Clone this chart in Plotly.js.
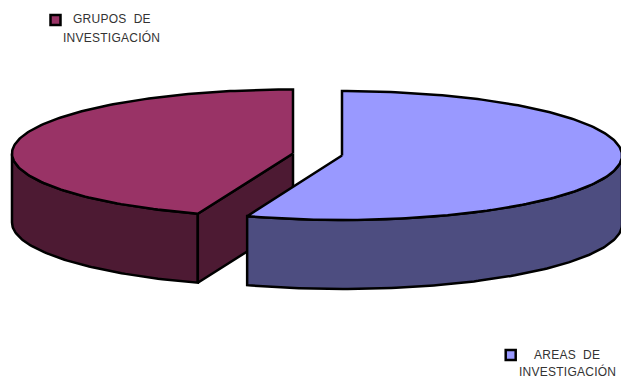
<!DOCTYPE html>
<html><head><meta charset="utf-8">
<script src="https://cdn.plot.ly/plotly-3.0.1.min.js"></script>
<style>html,body{margin:0;padding:0;background:#fff}#c{width:621px;height:378px}
.annotation-text{letter-spacing:.25px}</style></head>
<body><div id="c"></div>
<script>
// Data
const categories = ["AREAS DE INVESTIGACIÓN", "GRUPOS DE INVESTIGACIÓN"];
const values = [55.5, 44.5];
const topColors = ["#9999FF", "#993366"];
const sideColors = ["#4D4D80", "#4D1A33"];
const legendLines = [["AREAS\u00A0\u00A0DE", "INVESTIGACIÓN"], ["GRUPOS\u00A0\u00A0DE", "INVESTIGACIÓN"]];

// Pie geometry (drawing parameters)
const pies = [
  {cx: 342, cy: 155.5, rx: 280, ry: 64.5},
  {cx: 293, cy: 153.5, rx: 281, ry: 64}
];
const depth = 69;
const total = values.reduce((a, b) => a + b, 0);
const split = values[0] / total * 360;
const wedges = [[0, split], [split, 360]];
const frontVisible = [[90, split], [split, 270]];

function pt(p, deg, dy) {
  const t = deg * Math.PI / 180;
  return [p.cx + p.rx * Math.sin(t), p.cy - p.ry * Math.cos(t) + (dy || 0)];
}
function arc(p, a, b, dy) {
  const out = [];
  const n = Math.max(2, Math.ceil(Math.abs(b - a)));
  for (let i = 0; i <= n; i++) out.push(pt(p, a + (b - a) * i / n, dy));
  return out;
}
function poly(points, fill) {
  return {
    type: "scatter", mode: "lines", hoverinfo: "skip", showlegend: false,
    x: points.map(q => q[0]), y: points.map(q => q[1]),
    fill: "toself", fillcolor: fill,
    line: {color: "#000", width: 2.5, shape: "linear"}
  };
}
function slice(i) {
  const p = pies[i], tr = [];
  const [a, b] = wedges[i], [fa, fb] = frontVisible[i];
  const centre = [p.cx, p.cy];
  // outer wall
  tr.push(poly(arc(p, fa, fb, 0).concat(arc(p, fb, fa, depth)).concat([pt(p, fa, 0)]), sideColors[i]));
  // cut wall facing the viewer (second slice only)
  if (i === 1) {
    const f = pt(p, a, 0);
    tr.push(poly([centre, f, [f[0], f[1] + depth], [p.cx, p.cy + depth], centre], sideColors[i]));
  }
  // top face
  tr.push(poly([centre].concat(arc(p, a, b, 0)).concat([centre]), topColors[i]));
  return tr;
}
const traces = [...slice(1), ...slice(0)];

// Legend swatches
const swatchX = [510.7, 55.5], swatchY = [355, 20];
traces.push({
  type: "scatter", mode: "markers", hoverinfo: "skip", showlegend: false,
  x: swatchX, y: swatchY,
  marker: {symbol: "square", size: 10, color: topColors, line: {color: "#000", width: 2.5}}
});

const lineX = [[567, 567.5], [111.5, 111.5]];
const lineY = [[354.5, 371.5], [19, 37]];
const annotations = [];
legendLines.forEach((lines, i) => lines.forEach((s, j) => annotations.push({
  text: s, x: lineX[i][j], y: lineY[i][j], xref: "x", yref: "y",
  showarrow: false, xanchor: "center", yanchor: "middle",
  font: {family: "Liberation Sans, Arial, sans-serif", size: 12, color: "#333"}
})));

Plotly.newPlot("c", traces, {
  width: 621, height: 378,
  margin: {l: 0, r: 0, t: 0, b: 0},
  paper_bgcolor: "#fff", plot_bgcolor: "#fff",
  showlegend: false, annotations,
  xaxis: {range: [0, 621], visible: false, fixedrange: true},
  yaxis: {range: [378, 0], visible: false, fixedrange: true}
}, {displayModeBar: false, staticPlot: true});
</script></body></html>
